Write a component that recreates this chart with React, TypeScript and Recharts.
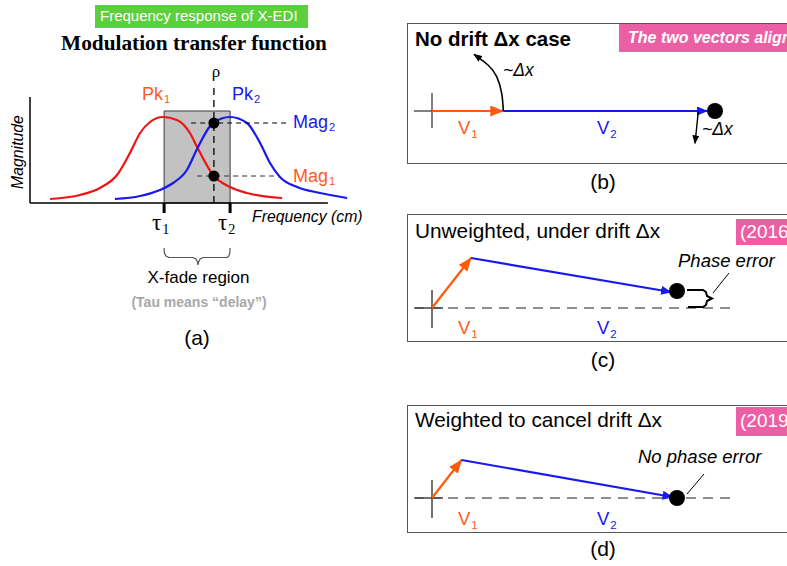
import React from 'react';
import {
  ComposedChart,
  Line,
  XAxis,
  YAxis,
  ReferenceLine,
  ReferenceArea,
  ReferenceDot
} from 'recharts';

// ---- panel (a): magnitude response of the two peaks
const redFreq = [6.7, 16.7, 23.3, 29, 33.3, 36.7, 40, 44.3, 49, 53.3, 55.7, 61, 66.7, 72.3, 84];
const redMag = [0.04, 0.08, 0.15, 0.28, 0.5, 0.7, 0.81, 0.86, 0.83, 0.7, 0.56, 0.28, 0.16, 0.1, 0.05];
const blueFreq = [28.3, 36.7, 43.3, 47.7, 52.3, 55.7, 61, 66.7, 72.3, 76.7, 80, 83.3, 89, 96.7, 105.7];
const blueMag = [0.04, 0.07, 0.13, 0.2, 0.33, 0.54, 0.8, 0.86, 0.8, 0.6, 0.4, 0.26, 0.16, 0.1, 0.05];
const tauFreq = [44.7, 66.7];
const rhoFreq = 61.3;
const magLevels = [0.27, 0.8]; // Mag1, Mag2
const xfadeTop = 0.92;
const braceFreq = [44.7, 44.8, 45.3, 46.3, 54.3, 55.3, 55.8, 56, 56.2, 56.7, 57.7, 65.7, 66.3, 66.6, 66.7];
const braceLvl = [-0.45, -0.5, -0.53, -0.545, -0.545, -0.56, -0.59, -0.62, -0.59, -0.56, -0.545, -0.545, -0.53, -0.5, -0.45];

// ---- panels (b)-(d): phasor vectors, tail -> head
const bV1 = [[0, 0], [7.13, 0]];
const bV2 = [[7.13, 0], [27.5, 0]];
const bEnd = [28.3, 0];
const bTurn = [[7.13, 0], [6.97, 1.77], [6.47, 3.43], [5.6, 4.6], [4.2, 5.67]];
const bShift = [[26.63, -0.07], [26.3, -3.23]];

const cV1 = [[0, 0], [3.9, 5.0]];
const cV2 = [[3.9, 5.0], [23.9, 1.6]];
const cEnd = [24.5, 1.7];
const cBrace = [[25.5, 1.8], [27.1, 1.8], [27.4, 1.6], [27.5, 1.2], [28.0, 0.95], [27.5, 0.7], [27.4, 0.3], [27.1, 0.1], [25.6, 0.1]];
const cLead = [[28.1, 1.5], [29.7, 3.5]];

const dV1 = [[0, 0], [2.95, 3.8]];
const dV2 = [[2.95, 3.8], [24.05, 0.1]];
const dEnd = [24.5, 0];
const dLead = [[25.5, 0.4], [27.2, 2.4]];

const RED = '#f01414';
const BLUE = '#1818f0';
const ORANGE = '#ff5a1e';
const PINK = '#ec5fa5';
const SANS = '"Liberation Sans", Arial, sans-serif';
const SERIF = '"Liberation Serif", "Times New Roman", serif';

const toPts = (p: number[][]) => p.map(([x, y]) => ({ x, y }));
const zip = (xs: number[], ys: number[]) => xs.map((x, i) => ({ x, y: ys[i] }));

function Txt({ x, base, size, color = '#000', weight = 400, italic = false, serif = false, anchor = 'start', children }: any) {
  return (
    <div
      style={{
        position: 'absolute',
        left: x,
        top: base - 0.845 * size,
        fontSize: size,
        lineHeight: `${size}px`,
        color,
        fontWeight: weight,
        fontStyle: italic ? 'italic' : 'normal',
        fontFamily: serif ? SERIF : SANS,
        whiteSpace: 'nowrap',
        transform: anchor === 'middle' ? 'translateX(-50%)' : undefined
      }}
    >
      {children}
    </div>
  );
}

const Sub = ({ children }: any) => (
  <span style={{ fontSize: '0.62em', position: 'relative', top: '0.32em', marginLeft: 1 }}>{children}</span>
);

const vecLine = (data: number[][], color: string, marker: string, width = 2.2, type: any = 'linear') => (
  <Line
    data={toPts(data)}
    dataKey="y"
    type={type}
    stroke={color}
    strokeWidth={width}
    dot={false}
    activeDot={false}
    isAnimationActive={false}
    markerEnd={marker ? `url(#${marker})` : undefined}
  />
);

function Box({ top, height }: { top: number; height: number }) {
  return (
    <div
      style={{
        position: 'absolute',
        left: 407,
        top,
        width: 420,
        height: height - 2,
        border: '1.3px solid #555',
        boxSizing: 'border-box'
      }}
    />
  );
}

function Tag({ left, top, width, height }: any) {
  return <div style={{ position: 'absolute', left, top, width, height, background: PINK }} />;
}

export default function App() {
  return (
    <div style={{ position: 'absolute', left: 0, top: 0, width: 787, height: 566, overflow: 'hidden', background: '#fff', fontFamily: SANS }}>
      <svg width={0} height={0} style={{ position: 'absolute' }}>
        <defs>
          <marker id="arrOrange" markerUnits="userSpaceOnUse" markerWidth={14} markerHeight={11} refX={13} refY={5.5} orient="auto">
            <path d="M0,0 L14,5.5 L0,11 Z" fill="#ff5a0a" />
          </marker>
          <marker id="arrBlue" markerUnits="userSpaceOnUse" markerWidth={11} markerHeight={9} refX={10} refY={4.5} orient="auto">
            <path d="M0,0 L11,4.5 L0,9 Z" fill={BLUE} />
          </marker>
          <marker id="arrBlack" markerUnits="userSpaceOnUse" markerWidth={9} markerHeight={7} refX={8} refY={3.5} orient="auto">
            <path d="M0,0 L9,3.5 L0,7 Z" fill="#000" />
          </marker>
        </defs>
      </svg>

      {/* ---------- (a) ---------- */}
      <div style={{ position: 'absolute', left: 95, top: 5, width: 213, height: 23, background: '#5ccf3c' }} />
      <Txt x={100} base={21} size={15} color="#fff">Frequency response of X-EDI</Txt>
      <Txt x={194} base={51} size={21.3} weight={700} serif anchor="middle">Modulation transfer function</Txt>

      <div style={{ position: 'absolute', left: 0, top: 53 }}>
        <ComposedChart width={380} height={230} margin={{ top: 10, right: 20, bottom: 10, left: 30 }}>
          <XAxis type="number" dataKey="x" domain={[0, 110]} hide allowDataOverflow />
          <YAxis type="number" domain={[-0.7, 1.4]} hide allowDataOverflow />
          <ReferenceArea x1={tauFreq[0]} x2={tauFreq[1]} y1={0} y2={xfadeTop} fill="#c2c2c2" fillOpacity={1} stroke="#3a3a3a" strokeWidth={1} />
          <Line data={zip(redFreq, redMag)} dataKey="y" type="monotone" stroke={RED} strokeWidth={2.2} dot={false} activeDot={false} isAnimationActive={false} />
          <Line data={zip(blueFreq, blueMag)} dataKey="y" type="monotone" stroke={BLUE} strokeWidth={2.2} dot={false} activeDot={false} isAnimationActive={false} />
          <Line data={zip(braceFreq, braceLvl)} dataKey="y" type="linear" stroke="#555" strokeWidth={1.2} dot={false} activeDot={false} isAnimationActive={false} />
          <ReferenceLine segment={[{ x: 0, y: 0 }, { x: 0, y: 1.06 }]} stroke="#000" strokeWidth={1.5} />
          <ReferenceLine segment={[{ x: 0, y: 0 }, { x: 99.3, y: 0 }]} stroke="#000" strokeWidth={1.5} />
          <ReferenceLine segment={[{ x: tauFreq[0], y: 0 }, { x: tauFreq[0], y: -0.1 }]} stroke="#000" strokeWidth={3} />
          <ReferenceLine segment={[{ x: tauFreq[1], y: 0 }, { x: tauFreq[1], y: -0.1 }]} stroke="#000" strokeWidth={3} />
          <ReferenceLine segment={[{ x: rhoFreq, y: 0 }, { x: rhoFreq, y: 1.17 }]} stroke="#000" strokeWidth={1.3} strokeDasharray="7 5" />
          <ReferenceLine segment={[{ x: 53.7, y: magLevels[1] }, { x: 85.7, y: magLevels[1] }]} stroke="#000" strokeWidth={1} strokeDasharray="5 4" />
          <ReferenceLine segment={[{ x: 55.7, y: magLevels[0] }, { x: 83.3, y: magLevels[0] }]} stroke="#333" strokeWidth={1} strokeDasharray="5 4" />
          <ReferenceDot x={rhoFreq} y={magLevels[1]} r={5.5} fill="#000" stroke="none" />
          <ReferenceDot x={rhoFreq} y={magLevels[0]} r={5.5} fill="#000" stroke="none" />
        </ComposedChart>
      </div>

      <Txt x={216} base={77} size={17} serif anchor="middle">ρ</Txt>
      <Txt x={142} base={100} size={18} color={ORANGE}>Pk<Sub>1</Sub></Txt>
      <Txt x={232} base={100} size={18} color={BLUE}>Pk<Sub>2</Sub></Txt>
      <Txt x={293} base={128} size={18} color={BLUE}>Mag<Sub>2</Sub></Txt>
      <Txt x={293} base={182} size={18} color={ORANGE}>Mag<Sub>1</Sub></Txt>
      <div
        style={{
          position: 'absolute',
          left: 17.5,
          top: 151.5,
          transform: 'translate(-50%, -50%) rotate(-90deg)',
          fontSize: 15.8,
          fontStyle: 'italic',
          lineHeight: '16px',
          whiteSpace: 'nowrap'
        }}
      >
        Magnitude
      </div>
      <Txt x={252} base={222} size={15.8} italic>Frequency (cm)</Txt>
      <Txt x={152} base={230} size={23} serif>τ<Sub>1</Sub></Txt>
      <Txt x={218} base={230} size={23} serif>τ<Sub>2</Sub></Txt>
      <Txt x={198.5} base={283} size={17} anchor="middle">X-fade region</Txt>
      <Txt x={199} base={307} size={14} weight={700} color="#a8a8a8" anchor="middle">(Tau means “delay”)</Txt>
      <Txt x={197} base={345} size={21} anchor="middle">(a)</Txt>

      {/* ---------- (b) ---------- */}
      <Box top={23} height={143} />
      <Tag left={619} top={24} width={200} height={28} />
      <Txt x={628} base={44} size={16} weight={700} italic color="#fff">The two vectors align</Txt>
      <div style={{ position: 'absolute', left: 407, top: 23 }}>
        <ComposedChart width={380} height={141} margin={{ top: 0, right: 0, bottom: 0, left: 0 }}>
          <XAxis type="number" dataKey="x" domain={[-2.5, 35.5]} hide allowDataOverflow />
          <YAxis type="number" domain={[-5.3, 8.8]} hide allowDataOverflow />
          <ReferenceLine segment={[{ x: -1.8, y: 0 }, { x: 0, y: 0 }]} stroke="#555" strokeWidth={1.5} />
          <ReferenceLine segment={[{ x: 0, y: 1.8 }, { x: 0, y: -1.7 }]} stroke="#555" strokeWidth={1.5} />
          {vecLine(bV1, '#ff5a0a', 'arrOrange')}
          {vecLine(bV2, BLUE, 'arrBlue')}
          {vecLine(bTurn, '#000', 'arrBlack', 1.6, 'natural')}
          {vecLine(bShift, '#000', 'arrBlack', 1.4)}
          <ReferenceDot x={bEnd[0]} y={bEnd[1]} r={8} fill="#000" stroke="none" />
        </ComposedChart>
      </div>
      <Txt x={415} base={46} size={20.5} weight={700}>No drift Δx case</Txt>
      <Txt x={503} base={77} size={17.5} italic>~Δx</Txt>
      <Txt x={702} base={136} size={17.5} italic>~Δx</Txt>
      <Txt x={458} base={135} size={18.5} color={ORANGE}>V<Sub>1</Sub></Txt>
      <Txt x={597} base={135} size={18.5} color={BLUE}>V<Sub>2</Sub></Txt>
      <Txt x={603} base={189} size={21} anchor="middle">(b)</Txt>

      {/* ---------- (c) ---------- */}
      <Box top={214} height={130} />
      <Tag left={736} top={219} width={60} height={26} />
      <Txt x={740} base={238} size={19} color="#fff">(2016</Txt>
      <div style={{ position: 'absolute', left: 407, top: 214 }}>
        <ComposedChart width={380} height={128} margin={{ top: 0, right: 0, bottom: 0, left: 0 }}>
          <XAxis type="number" dataKey="x" domain={[-2.5, 35.5]} hide allowDataOverflow />
          <YAxis type="number" domain={[-3.4, 9.4]} hide allowDataOverflow />
          <ReferenceLine segment={[{ x: -1.8, y: 0 }, { x: 30, y: 0 }]} stroke="#6a6a6a" strokeWidth={1.3} strokeDasharray="10 7" />
          <ReferenceLine segment={[{ x: -1.7, y: 0 }, { x: 1.1, y: 0 }]} stroke="#444" strokeWidth={1.5} />
          <ReferenceLine segment={[{ x: 0, y: 1.8 }, { x: 0, y: -2.0 }]} stroke="#444" strokeWidth={1.5} />
          {vecLine(cV1, '#ff5a0a', 'arrOrange')}
          {vecLine(cV2, BLUE, 'arrBlue')}
          {vecLine(cBrace, '#000', '', 2)}
          {vecLine(cLead, '#000', '', 1)}
          <ReferenceDot x={cEnd[0]} y={cEnd[1]} r={8} fill="#000" stroke="none" />
        </ComposedChart>
      </div>
      <Txt x={415} base={239} size={20.8}>Unweighted, under drift Δx</Txt>
      <Txt x={678} base={268} size={18.5} italic>Phase error</Txt>
      <Txt x={458} base={335} size={18.5} color={ORANGE}>V<Sub>1</Sub></Txt>
      <Txt x={597} base={335} size={18.5} color={BLUE}>V<Sub>2</Sub></Txt>
      <Txt x={603} base={367} size={21} anchor="middle">(c)</Txt>

      {/* ---------- (d) ---------- */}
      <Box top={405} height={130} />
      <Tag left={736} top={407} width={60} height={29} />
      <Txt x={740} base={427} size={19} color="#fff">(2019</Txt>
      <div style={{ position: 'absolute', left: 407, top: 405 }}>
        <ComposedChart width={380} height={128} margin={{ top: 0, right: 0, bottom: 0, left: 0 }}>
          <XAxis type="number" dataKey="x" domain={[-2.5, 35.5]} hide allowDataOverflow />
          <YAxis type="number" domain={[-3.5, 9.3]} hide allowDataOverflow />
          <ReferenceLine segment={[{ x: -1.8, y: 0 }, { x: 30, y: 0 }]} stroke="#6a6a6a" strokeWidth={1.3} strokeDasharray="10 7" />
          <ReferenceLine segment={[{ x: -1.7, y: 0 }, { x: 1.1, y: 0 }]} stroke="#444" strokeWidth={1.5} />
          <ReferenceLine segment={[{ x: 0, y: 1.8 }, { x: 0, y: -2.0 }]} stroke="#444" strokeWidth={1.5} />
          {vecLine(dV1, '#ff5a0a', 'arrOrange')}
          {vecLine(dV2, BLUE, 'arrBlue')}
          {vecLine(dLead, '#000', '', 1)}
          <ReferenceDot x={dEnd[0]} y={dEnd[1]} r={8} fill="#000" stroke="none" />
        </ComposedChart>
      </div>
      <Txt x={415} base={428} size={20.8}>Weighted to cancel drift Δx</Txt>
      <Txt x={638} base={464} size={18.5} italic>No phase error</Txt>
      <Txt x={458} base={526} size={18.5} color={ORANGE}>V<Sub>1</Sub></Txt>
      <Txt x={597} base={526} size={18.5} color={BLUE}>V<Sub>2</Sub></Txt>
      <Txt x={603} base={556} size={21} anchor="middle">(d)</Txt>
    </div>
  );
}
